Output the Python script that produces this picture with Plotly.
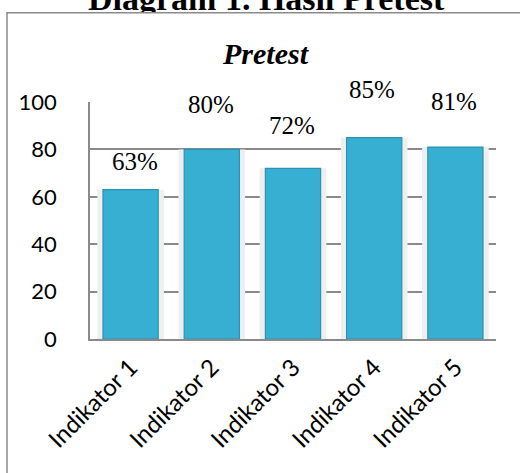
import plotly.graph_objects as go

categories = ["Indikator 1", "Indikator 2", "Indikator 3", "Indikator 4", "Indikator 5"]
values = [63, 80, 72, 85, 81]
y_ticks = [0, 20, 40, 60, 80, 100]
label_offsets = [28, 45, 43, 48, 46]   # px above bar tops
label_xshift = [4, -1, -1, -2, -1]

W, H = 520, 473
L, R, T, B = 90, 24, 102, 134
pw, ph = W - L - R, H - T - B

def px_x(x):
    return (x - L) / pw

def px_y(y):
    return (H - B - y) / ph

fig = go.Figure()
fig.add_trace(go.Bar(x=categories, y=values, width=0.82,
                     marker=dict(color="#efefef", line=dict(width=0)),
                     hoverinfo="skip", showlegend=False))
fig.add_trace(go.Bar(x=categories, y=values, width=0.68,
                     marker=dict(color="#36AFD3", line=dict(color="#2A93B3", width=1.2)),
                     showlegend=False))

annotations = []
for c, v, off, xs in zip(categories, values, label_offsets, label_xshift):
    annotations.append(dict(x=c, y=v, xref="x", yref="y", text=f"{v}%", showarrow=False,
                            yshift=off, xshift=xs, yanchor="middle",
                            font=dict(family="Liberation Serif", size=25, color="black")))
annotations.append(dict(x=px_x(266), y=px_y(12.7), xref="paper", yref="paper",
                        text="<b>Diagram 1. Hasil Pretest</b>", showarrow=False,
                        xanchor="center", yanchor="bottom", valign="top", height=32,
                        borderpad=0,
                        font=dict(family="Liberation Serif", size=34, color="black")))
annotations.append(dict(x=px_x(266), y=px_y(53), xref="paper", yref="paper",
                        text="<b><i>Pretest</i></b>", showarrow=False,
                        xanchor="center", yanchor="middle",
                        font=dict(family="Liberation Serif", size=30, color="black")))

fig.update_layout(
    width=W, height=H,
    margin=dict(l=L, r=R, t=T, b=B, pad=0, autoexpand=False),
    paper_bgcolor="white", plot_bgcolor="white",
    barmode="overlay",
    annotations=annotations,
    shapes=[dict(type="rect", xref="paper", yref="paper",
                 x0=px_x(7), x1=px_x(540), y0=px_y(500), y1=px_y(12.7),
                 line=dict(color="#8a8a8a", width=1.5), fillcolor="rgba(0,0,0,0)",
                 layer="below")],
    xaxis=dict(type="category", tickangle=-45, showgrid=False, automargin=False,
               showline=True, linecolor="#8a8a8a", linewidth=1.5,
               ticks="", ticklabelstandoff=3,
               tickfont=dict(family="Lato", size=24, color="black")),
    yaxis=dict(range=[0, 100], tickvals=y_ticks, showgrid=True, automargin=False,
               gridcolor="#8a8a8a", gridwidth=1.5, zeroline=False,
               showline=True, linecolor="#8a8a8a", linewidth=1.5,
               ticks="", ticklabelstandoff=27,
               tickfont=dict(family="Lato", size=22, color="black")),
)

fig.write_html("out.html", config={"displayModeBar": False},
               post_script="document.body.style.margin='0';document.body.style.overflow='hidden';")
